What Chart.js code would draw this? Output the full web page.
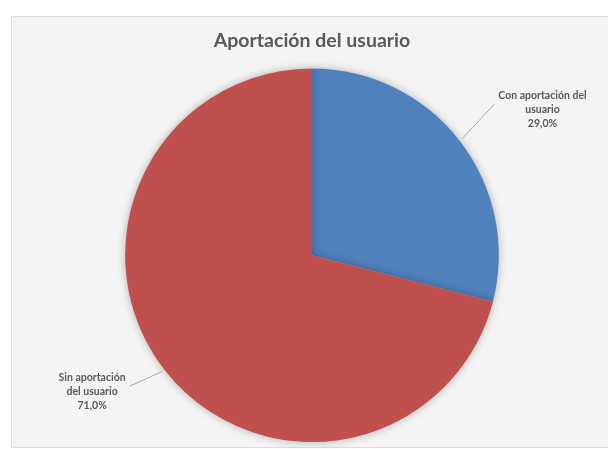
<!DOCTYPE html>
<html>
<head>
<meta charset="utf-8">
<script src="https://cdn.jsdelivr.net/npm/chart.js@4"></script>
<style>
  html, body { margin: 0; padding: 0; background: #ffffff; }
  body { width: 608px; height: 449px; position: relative; overflow: hidden; }
  .panel {
    position: absolute; left: 11px; top: 16px; width: 620px; height: 430px;
    background: #f4f4f4; border: 1px solid #dedede;
  }
  #chart-wrap { position: absolute; left: 0; top: 0; width: 608px; height: 449px; }
</style>
</head>
<body>
<div class="panel"></div>
<div id="chart-wrap"><canvas id="pieChart" width="608" height="449"></canvas></div>
<script>
const categories = ["Con aportación del usuario", "Sin aportación del usuario"];
const labelLines = [["Con aportación del", "usuario"], ["Sin aportación", "del usuario"]];
const shares = [29.0, 71.0];
const sliceColors = ["#4f81bd", "#c0504d"];

const fmtPct = (v) => v.toFixed(1).replace(".", ",") + "%";

// soft glow under the pie
const pieShadow = {
  id: "pieShadow",
  beforeDatasetsDraw(chart) {
    const ctx = chart.ctx;
    ctx.save();
    ctx.shadowColor = "rgba(0,0,0,0.28)";
    ctx.shadowBlur = 9;
  },
  afterDatasetsDraw(chart) {
    chart.ctx.restore();
  },
};

// outside labels with leader lines, Excel style
const outsideLabels = {
  id: "outsideLabels",
  afterDatasetsDraw(chart) {
    const ctx = chart.ctx;
    const meta = chart.getDatasetMeta(0);
    ctx.save();
    ctx.font = "bold 10.5px Lato, 'Liberation Sans', sans-serif";
    ctx.fillStyle = "#595959";
    ctx.textAlign = "center";
    ctx.textBaseline = "middle";
    meta.data.forEach((arc, i) => {
      const mid = (arc.startAngle + arc.endAngle) / 2;
      const dx = Math.cos(mid);
      const dy = Math.sin(mid);
      const r = arc.outerRadius;
      const x0 = arc.x + dx * (r + 3);
      const y0 = arc.y + dy * (r + 3);
      const x1 = arc.x + dx * (r + 44);
      const y1 = arc.y + dy * (r + 40) - (dx < 0 ? 8 : 12);

      ctx.strokeStyle = "#a6a6a6";
      ctx.lineWidth = 1;
      ctx.beginPath();
      ctx.moveTo(x0, y0);
      ctx.lineTo(x1, y1);
      ctx.stroke();

      const lines = labelLines[i].concat([fmtPct(shares[i])]);
      const w = Math.max(...lines.map((t) => ctx.measureText(t).width));
      const cx = dx >= 0 ? x1 + 4 + w / 2 : x1 - 4 - w / 2;
      const lh = 14;
      const top = y1 + 5 - ((lines.length - 1) * lh) / 2;
      lines.forEach((t, k) => ctx.fillText(t, cx, top + k * lh));
    });
    ctx.restore();
  },
};

new Chart(document.getElementById("pieChart"), {
  type: "pie",
  data: {
    labels: categories,
    datasets: [
      {
        data: shares,
        backgroundColor: sliceColors,
        borderWidth: 0,
      },
    ],
  },
  options: {
    responsive: false,
    animation: false,
    layout: { padding: { top: 0, bottom: 7, left: 16, right: 0 } },
    plugins: {
      legend: { display: false },
      tooltip: { enabled: false },
      title: {
        display: true,
        text: "Aportación del usuario",
        color: "#595959",
        font: { family: "Lato, 'Liberation Sans', sans-serif", size: 19.5, weight: "bold" },
        padding: { top: 29, bottom: 16 },
      },
    },
  },
  plugins: [pieShadow, outsideLabels],
});
</script>
</body>
</html>
